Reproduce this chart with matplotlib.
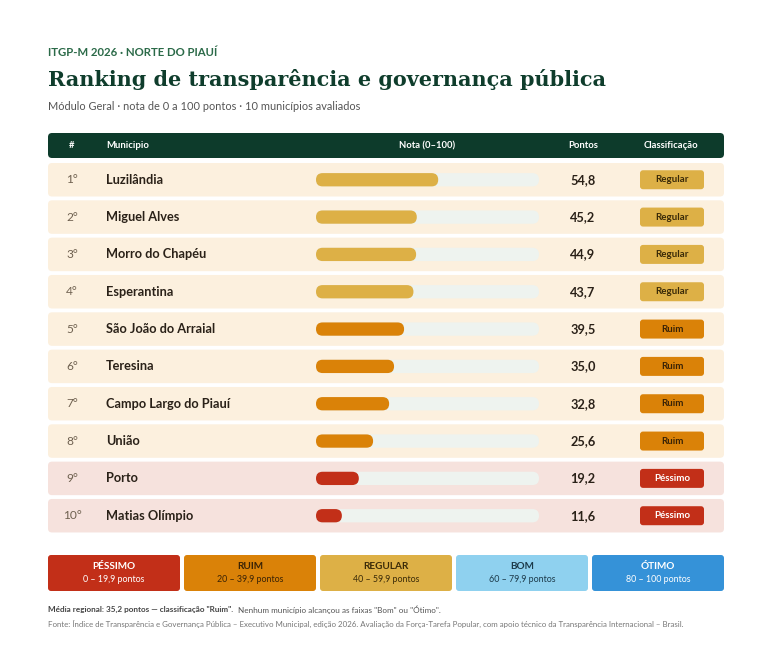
import matplotlib
matplotlib.use("Agg")
import matplotlib.pyplot as plt
from matplotlib.patches import FancyBboxPatch

# ---------------- data ----------------
ranks = ["1°", "2°", "3°", "4°", "5°", "6°", "7°", "8°", "9°", "10°"]
municipios = ["Luzilândia", "Miguel Alves", "Morro do Chapéu", "Esperantina",
              "São João do Arraial", "Teresina", "Campo Largo do Piauí",
              "União", "Porto", "Matias Olímpio"]
notas = [54.8, 45.2, 44.9, 43.7, 39.5, 35.0, 32.8, 25.6, 19.2, 11.6]
classes = ["Regular", "Regular", "Regular", "Regular", "Ruim", "Ruim", "Ruim",
           "Ruim", "Péssimo", "Péssimo"]
headers = ["#", "Municipio", "Nota (0–100)", "Pontos", "Classificação"]
legend_names = ["PÉSSIMO", "RUIM", "REGULAR", "BOM", "ÓTIMO"]
legend_ranges = ["0 – 19,9 pontos", "20 – 39,9 pontos", "40 – 59,9 pontos",
                 "60 – 79,9 pontos", "80 – 100 pontos"]
kicker = "ITGP-M 2026 · NORTE DO PIAUÍ"
title = "Ranking de transparência e governança pública"
subtitle = "Módulo Geral · nota de 0 a 100 pontos · 10 municípios avaliados"
note_bold = "Média regional: 35,2 pontos — classificação \"Ruim\"."
note_rest = "Nenhum município alcançou as faixas \"Bom\" ou \"Ótimo\"."
source = ("Fonte: Índice de Transparência e Governança Pública – Executivo Municipal, edição 2026. "
          "Avaliação da Força-Tarefa Popular, com apoio técnico da Transparência Internacional – Brasil.")

# ---------------- styles ----------------
bar_col = {"Péssimo": "#c22f18", "Ruim": "#da8208", "Regular": "#ddb046"}
badge_txt = {"Péssimo": "white", "Ruim": "#3a2306", "Regular": "#3a2a08"}
row_bg = {"Péssimo": "#f6e2dd", "Ruim": "#fcf0de", "Regular": "#fcf0de"}
leg_bg = ["#c22f18", "#da8208", "#ddb046", "#8fd1ef", "#3592d8"]
leg_fg = ["white", "#3a2306", "#3a2a08", "#1c3a4a", "white"]
GREEN = "#0d3b2b"
FONT = "Lato"

W, H = 777, 645
fig = plt.figure(figsize=(W / 100, H / 100), dpi=100)
fig.patch.set_facecolor("white")
ax = fig.add_axes([0, 0, 1, 1])
ax.set_xlim(0, W)
ax.set_ylim(H, 0)
ax.axis("off")

def rbox(x0, y0, w, h, color, r=4, z=1):
    ax.add_patch(FancyBboxPatch((x0, y0), w, h,
                                boxstyle=f"round,pad=0,rounding_size={r}",
                                fc=color, ec="none", zorder=z))

def fit(txt, target):
    fig.canvas.draw()
    w = txt.get_window_extent().width
    txt.set_fontsize(txt.get_fontsize() * target / w)

# header texts
k = ax.text(48, 52, kicker, fontsize=7.2, fontweight="bold", color="#2b6a48",
            family=FONT, va="center", ha="left")
fit(k, 170)
t = ax.text(48, 79, title, fontsize=20, fontweight="bold", color="#0f3d2c",
            family="DejaVu Serif", va="center", ha="left")
fit(t, 557)
s = ax.text(48, 106, subtitle, fontsize=8.6, color="#555555", family=FONT,
            va="center", ha="left")
fit(s, 308)

# table header
rbox(48, 133, 676, 25, GREEN, r=4)
hy = 145.5
hx = [72, 106, 427, 583, 671]
ha = ["center", "left", "center", "center", "center"]
for x, lab, a in zip(hx, headers, ha):
    ax.text(x, hy, lab, fontsize=6.8, fontweight="bold", color="white",
            family=FONT, va="center", ha=a)

# rows
top0 = 163.0
pitch = 37.33
rh = 33.5
for i in range(len(municipios)):
    cy = top0 + i * pitch + rh / 2
    rbox(48, top0 + i * pitch, 676, rh, row_bg[classes[i]], r=4, z=1)
    ax.text(72, cy, ranks[i], fontsize=8.6, color="#6e604f", family=FONT,
            va="center", ha="center")
    ax.text(106, cy, municipios[i], fontsize=9.2, fontweight="bold",
            color="#2a2118", family=FONT, va="center", ha="left")
    ax.text(583, cy, f"{notas[i]:.1f}".replace(".", ","), fontsize=9.2,
            fontweight="bold", color="#2a2118", family=FONT,
            va="center", ha="center")
    rbox(640, cy - 9.5, 64, 19, bar_col[classes[i]], r=3, z=2)
    ax.text(672, cy, classes[i], fontsize=7.0, fontweight="bold",
            color=badge_txt[classes[i]], family=FONT, va="center",
            ha="center", zorder=3)

# bar axes: x in score units (0-100), y in row index
bx0, bx1 = 316, 539
ytop = top0 + rh / 2 - pitch / 2
ybot = ytop + pitch * len(municipios)
bax = fig.add_axes([bx0 / W, 1 - ybot / H, (bx1 - bx0) / W, (ybot - ytop) / H])
bax.set_xlim(0, 100)
bax.set_ylim(len(municipios) - 0.5, -0.5)
bax.axis("off")
bax.patch.set_alpha(0)
bh = 13.3 / pitch
px_x = 100 / (bx1 - bx0)
px_y = 1 / pitch
asp = px_y / px_x
rr = 6.6 * px_x
for i, v in enumerate(notas):
    bax.add_patch(FancyBboxPatch((0, i - bh / 2), 100, bh,
                                 boxstyle=f"round,pad=0,rounding_size={rr}",
                                 mutation_aspect=asp, fc="#eef3ef", ec="none",
                                 zorder=1))
    bax.add_patch(FancyBboxPatch((0, i - bh / 2), v, bh,
                                 boxstyle=f"round,pad=0,rounding_size={rr}",
                                 mutation_aspect=asp, fc=bar_col[classes[i]],
                                 ec="none", zorder=2))

# legend
lx = [48, 184, 320, 456, 592]
for x, nm, rg, bg, fg in zip(lx, legend_names, legend_ranges, leg_bg, leg_fg):
    rbox(x, 555, 132, 36, bg, r=3)
    ax.text(x + 66, 566.5, nm, fontsize=7.2, fontweight="bold", color=fg,
            family=FONT, va="center", ha="center")
    ax.text(x + 66, 579, rg, fontsize=6.4, color=fg, family=FONT,
            va="center", ha="center")

# notes
nb = ax.text(48, 609.5, note_bold, fontsize=6.5, fontweight="bold",
             color="#444444", family=FONT, va="center", ha="left")
nr = ax.text(48, 609.5, note_rest, fontsize=6.5, color="#555555",
             family=FONT, va="center", ha="left")
fig.canvas.draw()
wb = nb.get_window_extent().width
wr = nr.get_window_extent().width
gap = 3.0
scale = (440 - 48 - gap) / (wb + wr)
nb.set_fontsize(6.5 * scale)
nr.set_fontsize(6.5 * scale)
nr.set_x(48 + wb * scale + gap)
src = ax.text(48, 624, source, fontsize=6.1, color="#777777", family=FONT,
              va="center", ha="left")
fit(src, 640)

fig.savefig("out.png", dpi=100, facecolor="white")
